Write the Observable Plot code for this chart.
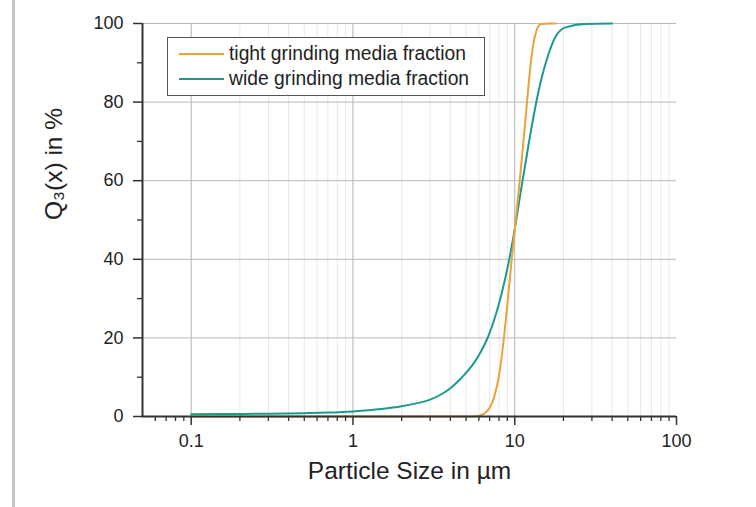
<!DOCTYPE html>
<html>
<head>
<meta charset="utf-8">
<script src="https://cdn.jsdelivr.net/npm/d3@7"></script>
<script src="https://cdn.jsdelivr.net/npm/@observablehq/plot@0.6"></script>
<style>
  html, body { margin: 0; padding: 0; background: #fff; }
  #wrap { position: relative; width: 756px; height: 507px; overflow: hidden; font-family: "Liberation Sans", Arial, sans-serif; }
  #bar { position: absolute; left: 12px; top: 0; width: 3px; height: 507px; background: #c6c6c6; }
  #legend { position: absolute; left: 167px; top: 37px; width: 316px; height: 57px; border: 1.5px solid #555; background: #fff; box-sizing: content-box; }
  .item { position: absolute; left: 11px; height: 20px; display: flex; align-items: center; font-size: 19.3px; color: #222; white-space: nowrap; }
  .swatch { width: 45px; height: 0; border-top: 2px solid; margin-right: 5px; }
</style>
</head>
<body>
<div id="wrap">
  <div id="bar"></div>
  <div id="chart"></div>
  <div id="legend"></div>
</div>
<script>
// ---- data ----
const seriesNames = ["tight grinding media fraction", "wide grinding media fraction"];
const seriesColors = ["#e9a23b", "#1c9a8e"];

const tightSize = [0.1, 5.5, 6.0, 6.5, 7.0, 7.5, 8.0, 8.5, 9.0, 9.5, 10.0, 10.5, 11.0, 11.5, 12.0, 12.5, 13.0, 13.5, 14.0, 14.7, 16, 18];
const tightQ3   = [0,   0,   0.2, 0.8, 2.2, 5.3, 10.5, 18.6, 28.5, 38.5, 47.5, 56, 64.5, 73, 81.5, 89, 94.5, 97.6, 99.3, 99.9, 100, 100];

const wideSize = [0.1, 0.2, 0.3, 0.5, 0.7, 1, 1.5, 2, 2.5, 3, 3.5, 4, 4.5, 5, 5.5, 6, 6.7, 7.2, 7.7, 8.3, 9.14, 10.05, 11.0, 12.2, 13.4, 14.7, 16.2, 17.8, 20.6, 27.3, 40];
const wideQ3   = [0.6, 0.65, 0.7, 0.85, 1.0, 1.3, 1.9, 2.6, 3.4, 4.3, 5.6, 7.2, 9.1, 11.1, 13.2, 15.6, 19.4, 22.7, 26.4, 31.3, 38.9, 48.2, 58.3, 69.4, 78.7, 86.3, 92.3, 96.5, 99.0, 99.9, 100];

const xDomain = [0.05, 100];
const yDomain = [0, 100];
const xMajorTicks = [0.1, 1, 10, 100];
const xMinorTicks = [0.06, 0.07, 0.08, 0.09, 0.2, 0.3, 0.4, 0.5, 0.6, 0.7, 0.8, 0.9, 2, 3, 4, 5, 6, 7, 8, 9, 20, 30, 40, 50, 60, 70, 80, 90];
const xMajorGrid = [0.1, 1, 10];
const xMinorGrid = [0.2, 0.3, 0.4, 0.5, 0.6, 0.7, 0.8, 0.9, 2, 3, 4, 5, 6, 7, 8, 9, 20, 30, 40, 50, 60, 70, 80, 90];
const yMajorTicks = [0, 20, 40, 60, 80, 100];
const yMinorTicks = [10, 30, 50, 70, 90];
const yGrid = [20, 40, 60, 80, 100];
const xTitle = "Particle Size in µm";
const yTitle = "Q₃(x) in %";

// ---- build tables ----
const tight = tightSize.map((s, i) => ({size: s, q: tightQ3[i]}));
const wide = wideSize.map((s, i) => ({size: s, q: wideQ3[i]}));

const axisColor = "#333";
const chart = Plot.plot({
  width: 756,
  height: 507,
  marginLeft: 142,
  marginRight: 80,
  marginTop: 23,
  marginBottom: 91,
  style: {fontFamily: '"Liberation Sans", Arial, sans-serif', fontSize: "18px", color: "#222", background: "white"},
  x: {type: "log", domain: xDomain},
  y: {domain: yDomain},
  marks: [
    Plot.ruleX(xMinorGrid, {stroke: "#e8e8e8", strokeWidth: 1}),
    Plot.ruleX(xMajorGrid, {stroke: "#b0b0b0", strokeWidth: 1}),
    Plot.ruleY(yGrid, {stroke: "#b8b8b8", strokeWidth: 1}),
    Plot.line(wide, {x: "size", y: "q", stroke: seriesColors[1], strokeWidth: 2, curve: "monotone-x"}),
    Plot.line(tight, {x: "size", y: "q", stroke: seriesColors[0], strokeWidth: 2, curve: "monotone-x"}),
    Plot.ruleX([xDomain[0]], {stroke: axisColor, strokeWidth: 2}),
    Plot.ruleY([yDomain[0]], {stroke: axisColor, strokeWidth: 2}),
    Plot.axisX({ticks: xMajorTicks, tickSize: 9, tickPadding: 9, tickFormat: d => `${d}`, label: null, stroke: axisColor, strokeWidth: 1.5, fill: "#222"}),
    Plot.axisX({ticks: xMinorTicks, tickSize: 5, tickFormat: () => "", label: null, stroke: axisColor, strokeWidth: 1.3}),
    Plot.axisY({ticks: yMajorTicks, tickSize: 9, tickPadding: 10, tickFormat: d => `${d}`, label: null, stroke: axisColor, strokeWidth: 1.5, fill: "#222"}),
    Plot.axisY({ticks: yMinorTicks, tickSize: 5, tickFormat: () => "", label: null, stroke: axisColor, strokeWidth: 1.3}),
    Plot.text([xTitle], {text: d => d, frameAnchor: "bottom", dy: 62, lineAnchor: "bottom", fontSize: 24.5, fill: "#222"}),
    Plot.text([yTitle], {text: d => d, frameAnchor: "left", dx: -88, rotate: -90, fontSize: 24.5, fill: "#222"})
  ]
});
document.getElementById("chart").appendChild(chart);

// ---- legend (overlay inside the plot area) ----
const legend = document.getElementById("legend");
seriesNames.forEach((name, i) => {
  const item = document.createElement("div");
  item.className = "item";
  item.style.top = (6 + i * 25) + "px";
  const sw = document.createElement("span");
  sw.className = "swatch";
  sw.style.borderTopColor = seriesColors[i];
  const label = document.createElement("span");
  label.textContent = name;
  item.appendChild(sw);
  item.appendChild(label);
  legend.appendChild(item);
});
</script>
</body>
</html>
